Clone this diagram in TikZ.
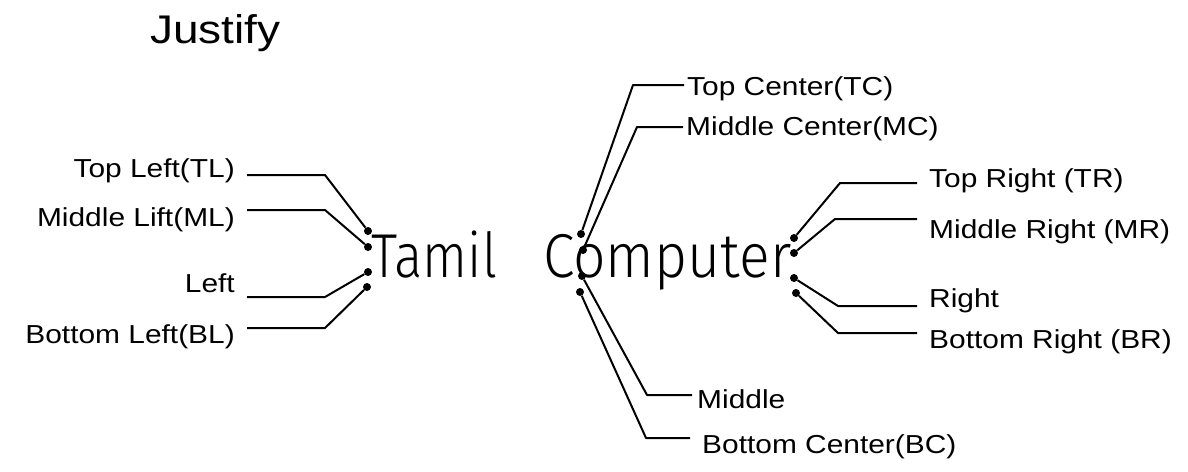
\documentclass[tikz,border=0pt]{standalone}
\usepackage{fontspec}
\setmainfont{Liberation Sans}
\newfontfamily\labfont[FakeStretch=1.15]{Liberation Sans}
\newfontfamily\bigfont[FakeStretch=0.92]{Fira Sans Light}
\usetikzlibrary{positioning}

\begin{document}
\begin{tikzpicture}[x=1pt, y=-1pt,
  lab/.style={font=\labfont\fontsize{26}{30}\selectfont, inner xsep=12pt, inner ysep=0pt},
  ll/.style={lab, anchor=base east},
  rl/.style={lab, anchor=base west},
  lead/.style={line width=2pt, line join=round},
  dot/.style={circle, fill=black, inner sep=0pt, minimum size=8pt}]
\useasboundingbox (0,0) rectangle (1188,471);

% ---------------- title and justified text
\node[anchor=base west, inner sep=0pt, font=\labfont\fontsize{40}{44}\selectfont] (title) at (150,43) {Justify};
\node[anchor=base west, inner sep=0pt, font=\bigfont\fontsize{62}{66}\selectfont] (txt) at (371,277)
  {{\addfontfeature{FakeStretch=0.85}Tamil}\hspace{46pt}Computer};

% ---------------- justification points
\node[dot] (tldot) at (368,231) {};
\node[dot] (mldot) at (368,247) {};
\node[dot] (ldot)  at (368,272) {};
\node[dot] (bldot) at (367,287) {};
\node[dot] (tcdot) at (581,234) {};
\node[dot] (mcdot) at (583,250) {};
\node[dot] (mdot)  at (582,276) {};
\node[dot] (bcdot) at (580,292) {};
\node[dot] (trdot) at (794,238) {};
\node[dot] (mrdot) at (794,253) {};
\node[dot] (rdot)  at (794,278) {};
\node[dot] (brdot) at (796,293) {};

% ---------------- left labels
\node[ll] (tl) at (247,177) {Top Left(TL)};
\node[ll] (ml) at (247,226) {Middle Lift(ML)};
\node[ll] (l)  at (247,292) {Left};
\node[ll] (bl) at (247,343) {Bottom Left(BL)};
\draw[lead] (tldot) -- (325,175) -- (325,175 -| tl.east);
\draw[lead] (mldot) -- (325,210) -- (325,210 -| ml.east);
\draw[lead] (ldot)  -- (325,297) -- (325,297 -| l.east);
\draw[lead] (bldot) -- (325,328) -- (325,328 -| bl.east);

% ---------------- centre labels
\node[rl, inner xsep=3pt] (tc) at (684,95) {Top Center(TC)};
\node[rl, inner xsep=3pt] (mc) at (683,135) {Middle Center(MC)};
\node[rl, inner xsep=5pt] (m)  at (692,408) {Middle};
\node[rl] (bc) at (690,453) {Bottom Center(BC)};
\draw[lead] (tcdot) -- (633,85)  -- (633,85 -| tc.west);
\draw[lead] (mcdot) -- (637,127) -- (637,127 -| mc.west);
\draw[lead] (mdot)  -- (647,395) -- (647,395 -| m.west);
\draw[lead] (bcdot) -- (646,438) -- (646,438 -| bc.west);

% ---------------- right labels
\node[rl] (tr) at (917,187) {Top Right (TR)};
\node[rl] (mr) at (917,238) {Middle Right (MR)};
\node[rl] (r)  at (917,307) {Right};
\node[rl] (br) at (917,348) {Bottom Right (BR)};
\draw[lead] (trdot) -- (840,183) -- (840,183 -| tr.west);
\draw[lead] (mrdot) -- (835,219) -- (835,219 -| mr.west);
\draw[lead] (rdot)  -- (838,306) -- (838,306 -| r.west);
\draw[lead] (brdot) -- (838,333) -- (838,333 -| br.west);
\end{tikzpicture}
\end{document}
